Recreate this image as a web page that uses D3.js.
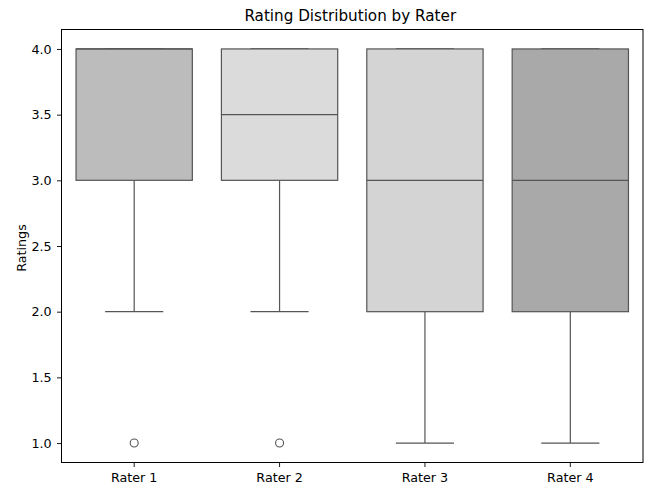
<!DOCTYPE html>
<html>
<head>
<meta charset="utf-8">
<script src="https://cdn.jsdelivr.net/npm/d3@7"></script>
<style>
  body { margin: 0; background: #fff; }
  svg { font-family: 'DejaVu Sans', sans-serif; }
</style>
</head>
<body>
<svg id="chart"></svg>
<script>
// box statistics
const raters = ['Rater 1', 'Rater 2', 'Rater 3', 'Rater 4'];
const q1 = [3, 3, 2, 2];
const medians = [4, 3.5, 3, 3];
const q3 = [4, 4, 4, 4];
const whiskerLow = [2, 2, 1, 1];
const whiskerHigh = [4, 4, 4, 4];
const outliers = [[1], [1], [], []];
const boxColors = ['#bcbcbc', '#dbdbdb', '#d4d4d4', '#a9a9a9'];
const yTicks = [1.0, 1.5, 2.0, 2.5, 3.0, 3.5, 4.0];

const W = 646, H = 487;
const margin = {top: 29.5, right: 3, bottom: 24.5, left: 61.5};
const width = W - margin.left - margin.right;
const height = H - margin.top - margin.bottom;
const lineColor = '#555555';
const tickFont = 12.7;

const svg = d3.select('#chart')
  .attr('width', W)
  .attr('height', H);

const g = svg.append('g')
  .attr('transform', 'translate(' + margin.left + ',' + margin.top + ')');

const x = d3.scaleBand()
  .domain(raters)
  .range([0, width])
  .padding(0);

const y = d3.scaleLinear()
  .domain([0.852, 4.148])
  .range([height, 0]);

const data = raters.map((r, i) => ({
  name: r, q1: q1[i], med: medians[i], q3: q3[i],
  lo: whiskerLow[i], hi: whiskerHigh[i], out: outliers[i], color: boxColors[i]
}));

const boxW = x.bandwidth() * 0.8;
const capW = x.bandwidth() * 0.4;
const cx = d => x(d.name) + x.bandwidth() / 2;

const boxes = g.selectAll('.box')
  .data(data)
  .enter()
  .append('g')
  .attr('class', 'box');

// whiskers
boxes.append('line')
  .attr('x1', cx).attr('x2', cx)
  .attr('y1', d => y(d.lo)).attr('y2', d => y(d.q1))
  .attr('stroke', lineColor).attr('stroke-width', 1.2);
boxes.append('line')
  .attr('x1', cx).attr('x2', cx)
  .attr('y1', d => y(d.q3)).attr('y2', d => y(d.hi))
  .attr('stroke', lineColor).attr('stroke-width', 1.2);

// caps
boxes.append('line')
  .attr('x1', d => cx(d) - capW / 2).attr('x2', d => cx(d) + capW / 2)
  .attr('y1', d => y(d.lo)).attr('y2', d => y(d.lo))
  .attr('stroke', lineColor).attr('stroke-width', 1.2);
boxes.append('line')
  .attr('x1', d => cx(d) - capW / 2).attr('x2', d => cx(d) + capW / 2)
  .attr('y1', d => y(d.hi)).attr('y2', d => y(d.hi))
  .attr('stroke', lineColor).attr('stroke-width', 1.2);

// box body
boxes.append('rect')
  .attr('x', d => cx(d) - boxW / 2)
  .attr('width', boxW)
  .attr('y', d => y(d.q3))
  .attr('height', d => y(d.q1) - y(d.q3))
  .attr('fill', d => d.color)
  .attr('stroke', lineColor)
  .attr('stroke-width', 1.2);

// median
boxes.append('line')
  .attr('x1', d => cx(d) - boxW / 2).attr('x2', d => cx(d) + boxW / 2)
  .attr('y1', d => y(d.med)).attr('y2', d => y(d.med))
  .attr('stroke', lineColor).attr('stroke-width', 1.2);

// fliers
boxes.selectAll('.flier')
  .data(d => d.out.map(v => ({v: v, c: cx(d)})))
  .enter()
  .append('circle')
  .attr('class', 'flier')
  .attr('cx', d => d.c)
  .attr('cy', d => y(d.v))
  .attr('r', 4)
  .attr('fill', 'none')
  .attr('stroke', lineColor)
  .attr('stroke-width', 1.1);

// axes
const xAxis = g.append('g')
  .attr('transform', 'translate(0,' + height + ')')
  .call(d3.axisBottom(x).tickSize(4.5).tickPadding(6));
const yAxis = g.append('g')
  .call(d3.axisLeft(y).tickValues(yTicks).tickFormat(d3.format('.1f')).tickSize(4.5).tickPadding(5.3));

[xAxis, yAxis].forEach(a => {
  a.select('.domain').remove();
  a.selectAll('text').attr('font-size', tickFont).attr('fill', '#000').style('font-family', 'DejaVu Sans');
  a.selectAll('line').attr('stroke', '#000').attr('stroke-width', 0.9);
});

// frame
g.append('rect')
  .attr('width', width)
  .attr('height', height)
  .attr('fill', 'none')
  .attr('stroke', '#000')
  .attr('stroke-width', 1);

// title
svg.append('text')
  .attr('x', margin.left + width / 2 - 2)
  .attr('y', 20.5)
  .attr('text-anchor', 'middle')
  .attr('font-size', 15.2)
  .text('Rating Distribution by Rater');

// y label
svg.append('text')
  .attr('transform', 'translate(25.5,' + (margin.top + height / 2 + 2) + ') rotate(-90)')
  .attr('text-anchor', 'middle')
  .attr('font-size', tickFont)
  .text('Ratings');
</script>
</body>
</html>
